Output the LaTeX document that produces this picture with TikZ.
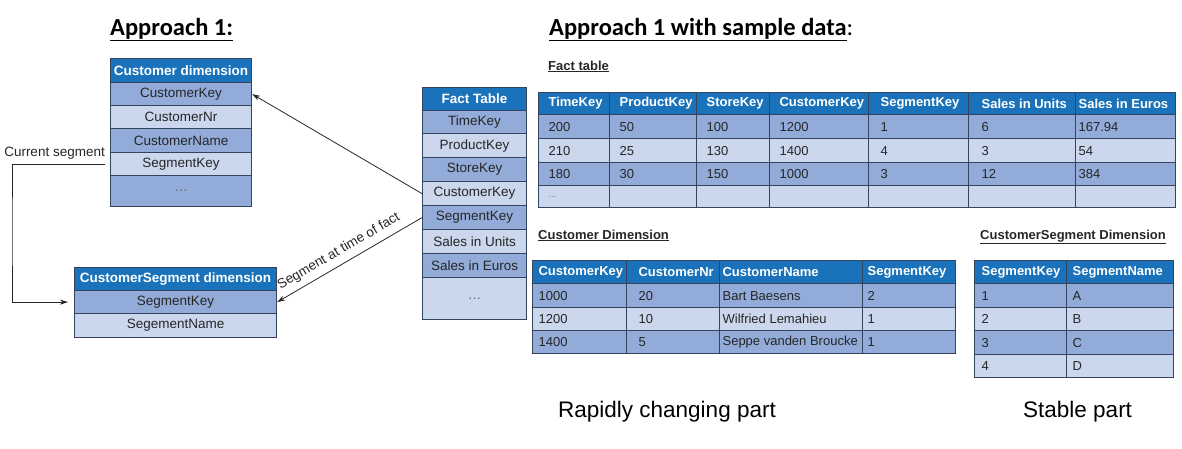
\documentclass[tikz,border=0pt]{standalone}
\usepackage{fontspec}
\setmainfont{Liberation Sans}
\newfontfamily\titlefont{Carlito}
\usetikzlibrary{arrows.meta}
\definecolor{hdrblue}{HTML}{1A73BA}
\definecolor{dkrow}{HTML}{92ABD9}
\definecolor{ltrow}{HTML}{CBD7ED}
\definecolor{gridc}{HTML}{34435E}
\definecolor{txtc}{HTML}{262626}
\definecolor{dotc}{HTML}{666666}
\tikzset{
  cellbase/.style={draw=gridc, line width=1.2pt, inner ysep=0pt, text=txtc},
  hdrcell/.style={cellbase, fill=hdrblue, text=white, font=\bfseries},
  dkcell/.style={cellbase, fill=dkrow},
  ltcell/.style={cellbase, fill=ltrow},
  arrline/.style={draw=txtc, line width=0.8pt, -{Stealth[length=8pt,width=5pt]}},
  ttltext/.style={inner sep=0pt, anchor=base west, font=\titlefont\bfseries\fontsize{24.5}{28}\selectfont},
  subtext/.style={inner sep=0pt, anchor=base west, text=txtc, font=\bfseries\fontsize{13}{15}\selectfont},
  bigtext/.style={inner sep=0pt, anchor=base west, font=\fontsize{22.5}{26}\selectfont},
  lbltext/.style={inner sep=0pt, text=txtc, font=\fontsize{13.5}{16}\selectfont}
}
% schema row: name, x1, y1, x2, y2, style, text
\newcommand\SchemaRow[7]{%
  \node[#6, anchor=north west, inner xsep=0pt, minimum width={(#4-#2)*1pt}, minimum height={(#5-#3)*1pt}] (#1) at (#2,#3) {\fontsize{13.5}{16}\selectfont #7};}
% sample cell: name, x1, y1, x2, y2, style, pad, text
\newcommand\SampleCell[8]{%
  \pgfmathsetmacro\myTW{#4-#2-2*#7}%
  \node[#6, anchor=north west, inner xsep=#7pt, minimum width={(#4-#2)*1pt}, minimum height={(#5-#3)*1pt}] (#1) at (#2,#3) {\fontsize{13}{15}\selectfont\makebox[\myTW pt][l]{#8}};}
\newcommand\MyDots{{\color{dotc}\dots}}
\newcommand\SmallDots{{\color{dotc}\footnotesize\dots}}

\begin{document}
\begin{tikzpicture}[x=1pt,y=-1pt]
\useasboundingbox (0,0) rectangle (1182,448);

% titles
\node[ttltext] (t1) at (110,35) {\underline{Approach 1:}};
\node[ttltext] (t2) at (549,35) {\underline{Approach 1 with sample data}{\mdseries:}};

% Customer dimension (schema)
\SchemaRow{cH}{110}{58}{251}{82}{hdrcell}{Customer dimension}
\SchemaRow{cCK}{110}{82}{251}{105}{dkcell}{CustomerKey}
\SchemaRow{cNr}{110}{105}{251}{128}{ltcell}{CustomerNr}
\SchemaRow{cNm}{110}{128}{251}{152}{dkcell}{CustomerName}
\SchemaRow{cSK}{110}{152}{251}{175}{ltcell}{SegmentKey}
\SchemaRow{cDt}{110}{175}{251}{206}{dkcell}{\MyDots}

% Fact Table (schema)
\SchemaRow{fH}{422}{87}{526}{110}{hdrcell}{Fact Table}
\SchemaRow{fTK}{422}{110}{526}{133}{dkcell}{TimeKey}
\SchemaRow{fPK}{422}{133}{526}{157}{ltcell}{ProductKey}
\SchemaRow{fSt}{422}{157}{526}{181}{dkcell}{StoreKey}
\SchemaRow{fCK}{422}{181}{526}{205}{ltcell}{CustomerKey}
\SchemaRow{fSK}{422}{205}{526}{229}{dkcell}{SegmentKey}
\SchemaRow{fSU}{422}{229}{526}{253}{ltcell}{Sales in Units}
\SchemaRow{fSE}{422}{253}{526}{277}{dkcell}{Sales in Euros}
\SchemaRow{fDt}{422}{277}{526}{319}{ltcell}{\MyDots}

% CustomerSegment dimension (schema)
\SchemaRow{sH}{74}{267}{276}{290}{hdrcell}{CustomerSegment dimension}
\SchemaRow{sSK}{74}{290}{276}{313}{dkcell}{SegmentKey}
\SchemaRow{sSN}{74}{313}{276}{337}{ltcell}{SegementName}

% connectors
\draw[arrline] (fCK.west) -- (cCK.east);
\draw[arrline, {Stealth[length=8pt,width=5pt]}-] (sSK.east) -- node[lbltext, sloped, above=6pt, pos=0.47] (segl) {Segment at time of fact} (fSK.west);
\coordinate (cs) at (12,230);
\node[lbltext, anchor=base east] (curl) at (105,156) {Current segment};
\draw[arrline] ([xshift=-5pt]cSK.west) -| (cs) |- ([xshift=-6pt]sSK.west);

% Fact table sample
\node[subtext] (ftl) at (548,70) {\underline{Fact table}};
\SampleCell{a00}{538}{92}{609}{114}{hdrcell}{10}{TimeKey}
\SampleCell{a01}{609}{92}{696}{114}{hdrcell}{10}{ProductKey}
\SampleCell{a02}{696}{92}{769}{114}{hdrcell}{10}{StoreKey}
\SampleCell{a03}{769}{92}{868}{114}{hdrcell}{10}{CustomerKey}
\SampleCell{a04}{868}{92}{968}{114}{hdrcell}{12}{SegmentKey}
\SampleCell{a05}{968}{92}{1075}{114}{hdrcell}{13}{Sales in Units}
\SampleCell{a06}{1075}{92}{1175}{114}{hdrcell}{3}{Sales in Euros}
\SampleCell{a10}{538}{114}{609}{138}{dkcell}{10}{200}
\SampleCell{a11}{609}{114}{696}{138}{dkcell}{10}{50}
\SampleCell{a12}{696}{114}{769}{138}{dkcell}{10}{100}
\SampleCell{a13}{769}{114}{868}{138}{dkcell}{10}{1200}
\SampleCell{a14}{868}{114}{968}{138}{dkcell}{12}{1}
\SampleCell{a15}{968}{114}{1075}{138}{dkcell}{13}{6}
\SampleCell{a16}{1075}{114}{1175}{138}{dkcell}{3}{167.94}
\SampleCell{a20}{538}{138}{609}{162}{ltcell}{10}{210}
\SampleCell{a21}{609}{138}{696}{162}{ltcell}{10}{25}
\SampleCell{a22}{696}{138}{769}{162}{ltcell}{10}{130}
\SampleCell{a23}{769}{138}{868}{162}{ltcell}{10}{1400}
\SampleCell{a24}{868}{138}{968}{162}{ltcell}{12}{4}
\SampleCell{a25}{968}{138}{1075}{162}{ltcell}{13}{3}
\SampleCell{a26}{1075}{138}{1175}{162}{ltcell}{3}{54}
\SampleCell{a30}{538}{162}{609}{185}{dkcell}{10}{180}
\SampleCell{a31}{609}{162}{696}{185}{dkcell}{10}{30}
\SampleCell{a32}{696}{162}{769}{185}{dkcell}{10}{150}
\SampleCell{a33}{769}{162}{868}{185}{dkcell}{10}{1000}
\SampleCell{a34}{868}{162}{968}{185}{dkcell}{12}{3}
\SampleCell{a35}{968}{162}{1075}{185}{dkcell}{13}{12}
\SampleCell{a36}{1075}{162}{1175}{185}{dkcell}{3}{384}
\SampleCell{a40}{538}{185}{609}{207}{ltcell}{10}{\SmallDots}
\SampleCell{a41}{609}{185}{696}{207}{ltcell}{10}{}
\SampleCell{a42}{696}{185}{769}{207}{ltcell}{10}{}
\SampleCell{a43}{769}{185}{868}{207}{ltcell}{10}{}
\SampleCell{a44}{868}{185}{968}{207}{ltcell}{12}{}
\SampleCell{a45}{968}{185}{1075}{207}{ltcell}{13}{}
\SampleCell{a46}{1075}{185}{1175}{207}{ltcell}{3}{}

% Customer Dimension sample
\node[subtext] (cdl) at (538,239) {\underline{Customer Dimension}};
\SampleCell{b00}{532}{260}{626}{283}{hdrcell}{6}{CustomerKey}
\SampleCell{b01}{626}{260}{719}{283}{hdrcell}{12}{CustomerNr}
\SampleCell{b02}{719}{260}{862}{283}{hdrcell}{3}{CustomerName}
\SampleCell{b03}{862}{260}{955}{283}{hdrcell}{5}{SegmentKey}
\SampleCell{b10}{532}{283}{626}{307}{dkcell}{6}{1000}
\SampleCell{b11}{626}{283}{719}{307}{dkcell}{12}{20}
\SampleCell{b12}{719}{283}{862}{307}{dkcell}{3}{Bart Baesens}
\SampleCell{b13}{862}{283}{955}{307}{dkcell}{5}{2}
\SampleCell{b20}{532}{307}{626}{330}{ltcell}{6}{1200}
\SampleCell{b21}{626}{307}{719}{330}{ltcell}{12}{10}
\SampleCell{b22}{719}{307}{862}{330}{ltcell}{3}{Wilfried Lemahieu}
\SampleCell{b23}{862}{307}{955}{330}{ltcell}{5}{1}
\SampleCell{b30}{532}{330}{626}{353}{dkcell}{6}{1400}
\SampleCell{b31}{626}{330}{719}{353}{dkcell}{12}{5}
\SampleCell{b32}{719}{330}{862}{353}{dkcell}{3}{Seppe vanden Broucke}
\SampleCell{b33}{862}{330}{955}{353}{dkcell}{5}{1}

% CustomerSegment Dimension sample
\node[subtext] (csl) at (980,239) {\underline{CustomerSegment Dimension}};
\SampleCell{c00}{974}{260}{1066}{283}{hdrcell}{7}{SegmentKey}
\SampleCell{c01}{1066}{260}{1173}{283}{hdrcell}{6}{SegmentName}
\SampleCell{c10}{974}{283}{1066}{307}{dkcell}{7}{1}
\SampleCell{c11}{1066}{283}{1173}{307}{dkcell}{6}{A}
\SampleCell{c20}{974}{307}{1066}{330}{ltcell}{7}{2}
\SampleCell{c21}{1066}{307}{1173}{330}{ltcell}{6}{B}
\SampleCell{c30}{974}{330}{1066}{354}{dkcell}{7}{3}
\SampleCell{c31}{1066}{330}{1173}{354}{dkcell}{6}{C}
\SampleCell{c40}{974}{354}{1066}{377}{ltcell}{7}{4}
\SampleCell{c41}{1066}{354}{1173}{377}{ltcell}{6}{D}

% bottom labels
\node[bigtext] (rcp) at (558,417) {Rapidly changing part};
\node[bigtext] (stp) at (1023,417) {Stable part};
\end{tikzpicture}
\end{document}
